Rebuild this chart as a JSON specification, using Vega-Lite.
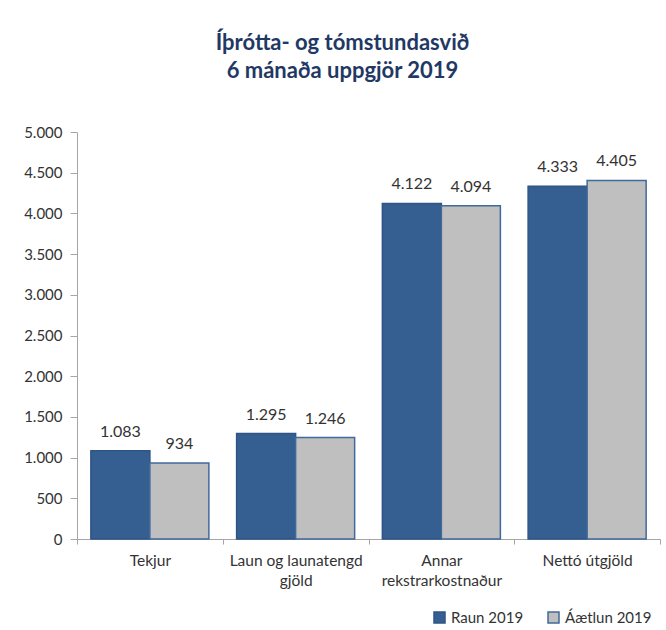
{
  "$schema": "https://vega.github.io/schema/vega-lite/v6.json",
  "width": 583,
  "height": 407,
  "autosize": {"type": "none"},
  "padding": {"left": 77, "top": 132, "right": 6, "bottom": 91},
  "background": "white",
  "config": {
    "locale": {"number": {"decimal": ",", "thousands": ".", "grouping": [3], "currency": ["", ""]}},
    "view": {"stroke": null},
    "font": "Lato"
  },
  "title": {
    "text": ["Íþrótta- og tómstundasvið", "6 mánaða uppgjör 2019"],
    "font": "Lato",
    "fontSize": 22,
    "fontWeight": "bold",
    "color": "#1F3864",
    "anchor": "middle",
    "dx": -26,
    "offset": 42,
    "lineHeight": 28
  },
  "data": {
    "values": [
      {"cat": "Tekjur", "series": "Raun 2019", "value": 1083},
      {"cat": "Tekjur", "series": "Áætlun 2019", "value": 934},
      {"cat": "Laun og launatengd gjöld", "series": "Raun 2019", "value": 1295},
      {"cat": "Laun og launatengd gjöld", "series": "Áætlun 2019", "value": 1246},
      {"cat": "Annar rekstrarkostnaður", "series": "Raun 2019", "value": 4122},
      {"cat": "Annar rekstrarkostnaður", "series": "Áætlun 2019", "value": 4094},
      {"cat": "Nettó útgjöld", "series": "Raun 2019", "value": 4333},
      {"cat": "Nettó útgjöld", "series": "Áætlun 2019", "value": 4405}
    ]
  },
  "encoding": {
    "x": {
      "field": "cat",
      "type": "nominal",
      "sort": ["Tekjur", "Laun og launatengd gjöld", "Annar rekstrarkostnaður", "Nettó útgjöld"],
      "title": null,
      "scale": {"paddingInner": 0, "paddingOuter": 0},
      "axis": {
        "tickBand": "extent",
        "labelAngle": 0,
        "labelFont": "Lato",
        "labelFontSize": 15.5,
        "labelColor": "#333333",
        "domainColor": "#A6A6A6",
        "tickColor": "#A6A6A6",
        "tickSize": 5,
        "labelPadding": 9,
        "labelBaseline": "top",
        "labelLineHeight": 20,
        "labelExpr": "datum.value == 'Laun og launatengd gjöld' ? ['Laun og launatengd', 'gjöld'] : datum.value == 'Annar rekstrarkostnaður' ? ['Annar', 'rekstrarkostnaður'] : datum.value"
      }
    },
    "xOffset": {
      "field": "series",
      "type": "nominal",
      "sort": ["Raun 2019", "Áætlun 2019"],
      "scale": {"paddingInner": 0, "paddingOuter": 0.235}
    },
    "y": {
      "field": "value",
      "type": "quantitative",
      "scale": {"domain": [0, 5000], "nice": false},
      "axis": {
        "values": [0, 500, 1000, 1500, 2000, 2500, 3000, 3500, 4000, 4500, 5000],
        "format": ",d",
        "grid": false,
        "title": null,
        "labelFont": "Lato",
        "labelFontSize": 15,
        "labelColor": "#333333",
        "domainColor": "#A6A6A6",
        "tickColor": "#A6A6A6",
        "tickSize": 7,
        "labelPadding": 8
      }
    }
  },
  "layer": [
    {
      "mark": {"type": "bar", "strokeWidth": 1.5},
      "encoding": {
        "color": {
          "field": "series",
          "type": "nominal",
          "sort": ["Raun 2019", "Áætlun 2019"],
          "scale": {"domain": ["Raun 2019", "Áætlun 2019"], "range": ["#365F91", "#BFBFBF"]},
          "legend": {
            "title": null,
            "orient": "none",
            "legendX": 355,
            "legendY": 478,
            "direction": "horizontal",
            "symbolType": "square",
            "symbolSize": 121,
            "symbolStrokeWidth": 1.5,
            "labelFont": "Lato",
            "labelFontSize": 15,
            "labelColor": "#333333",
            "columnPadding": 21,
            "labelOffset": 4
          }
        },
        "stroke": {
          "field": "series",
          "type": "nominal",
          "sort": ["Raun 2019", "Áætlun 2019"],
          "scale": {"domain": ["Raun 2019", "Áætlun 2019"], "range": ["#2F5485", "#3F6A9C"]},
          "legend": {
            "title": null,
            "orient": "none",
            "legendX": 355,
            "legendY": 478,
            "direction": "horizontal",
            "symbolType": "square",
            "symbolSize": 121,
            "symbolStrokeWidth": 1.5,
            "labelFont": "Lato",
            "labelFontSize": 15,
            "labelColor": "#333333",
            "columnPadding": 21,
            "labelOffset": 4
          }
        }
      }
    },
    {
      "mark": {"type": "text", "baseline": "middle", "dy": -19, "font": "Lato", "fontSize": 16, "color": "#333333"},
      "encoding": {
        "text": {"field": "value", "type": "quantitative", "format": ",d"}
      }
    }
  ]
}
